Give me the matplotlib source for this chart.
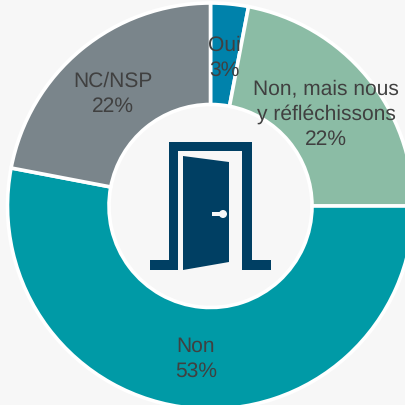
import matplotlib
matplotlib.use("Agg")
import matplotlib.pyplot as plt
from matplotlib.patches import Polygon, Circle, Rectangle

labels = ["Oui", "Non, mais nous\ny réfléchissons", "Non", "NC/NSP"]
values = [3, 22, 53, 22]
colors = ["#0082ab", "#8bbca5", "#009aa6", "#7a858b"]
# label centres in pixels
label_pos = [(224, 58), (326, 114), (196, 359), (113, 94)]

BG = "#f7f7f7"
NAVY = "#003f63"
TEXT = "#404040"
H = 406

plt.rcParams['font.family'] = ['Liberation Sans', 'DejaVu Sans']
plt.rcParams['text.hinting'] = 'no_hinting'
plt.rcParams['text.hinting_factor'] = 1

fig = plt.figure(figsize=(4.05, 4.06), dpi=100, facecolor=BG)
ax = fig.add_axes([0, 0, 1, 1])


def flip(points):
    return [(x, H - y) for x, y in points]


ax.pie(values, colors=colors, startangle=90, counterclock=False,
       center=(210.5, H - 207), radius=203, frame=True,
       wedgeprops=dict(width=101.5, edgecolor='white', linewidth=2.6))
ax.set_xlim(0, 405)
ax.set_ylim(0, H)
ax.set_aspect('equal')
ax.axis('off')

# door icon
frame = [(150, 271), (150, 261), (169, 261), (169, 143), (252, 143), (252, 261),
         (271, 261), (271, 271), (242, 271), (242, 261), (242, 152), (178, 152),
         (178, 271)]
door = [(183, 157), (229, 163), (229, 263), (183, 271)]
ax.add_patch(Polygon(flip(frame), closed=True, color=NAVY, lw=0))
ax.add_patch(Polygon(flip(door), closed=True, color=NAVY, lw=0))
ax.add_patch(Rectangle((212, H - 217), 10, 4, color=BG, lw=0))
ax.add_patch(Circle((223, H - 215), 4, color=BG, lw=0))

for label, value, (x, y) in zip(labels, values, label_pos):
    ax.text(x, H - y, "%s\n%d%%" % (label, value), ha='center', va='center',
            fontsize=15.4, color=TEXT, linespacing=1.36)

fig.savefig("out.png", dpi=100, facecolor=BG)
